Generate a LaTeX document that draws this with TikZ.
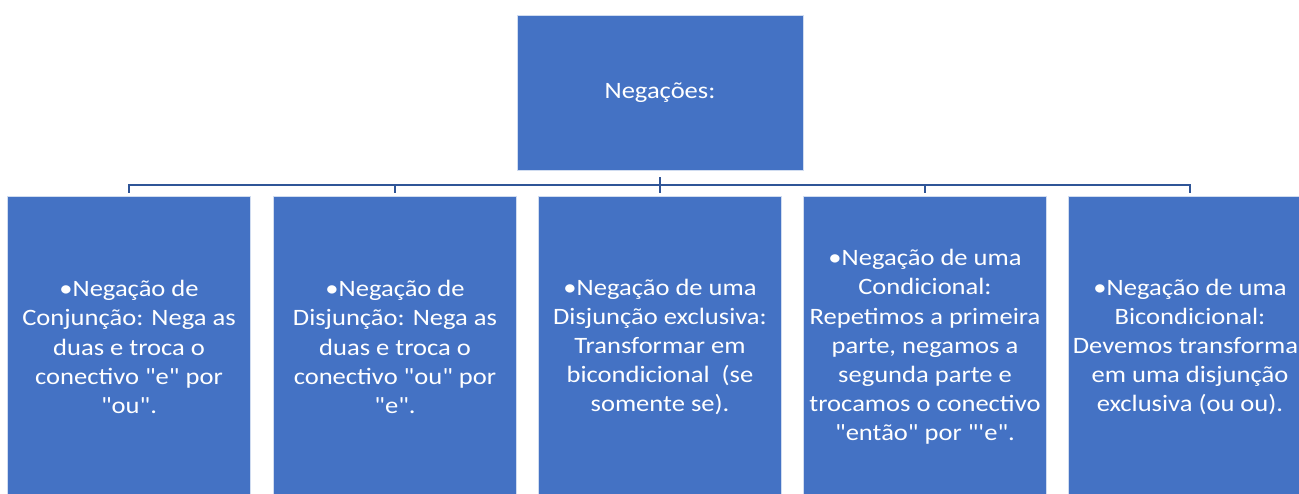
\documentclass[tikz,border=0pt]{standalone}
\usepackage{fontspec}
\defaultfontfeatures[\rmfamily]{}
\setmainfont{Carlito}
\usepackage{graphicx}
\definecolor{boxblue}{HTML}{4472C4}
\definecolor{lineblue}{HTML}{2F5597}
\newcommand\stxt[1]{\scalebox{1.13}[1]{\parbox{215pt}{\centering #1}}}
\tikzset{
  x=1pt, y=-1pt,
  topbox/.style={fill=boxblue, draw=white!75!boxblue, line width=0.8pt, minimum width=286pt, minimum height=155pt, inner sep=0pt, text=white, font=\fontsize{23.5}{29.2}\selectfont},
  childbox/.style={fill=boxblue, draw=white!75!boxblue, line width=0.8pt, minimum width=240pt, minimum height=302pt, inner sep=0pt, text=white, font=\fontsize{23.5}{29.2}\selectfont},
  conn/.style={draw=lineblue, line width=2pt}
}
\begin{document}
\begin{tikzpicture}
\clip (0,0) rectangle (1299,493);
\fill[white] (0,0) rectangle (1299,493);
\node[topbox] (top) at (660,92.5) {\stxt{Negações:}};
\node[childbox] (c1) at (129,347) {\stxt{•Negação de\\Conjunção: Nega as\\duas e troca o\\conectivo "e" por\\"ou".}};
\node[childbox] (c2) at (395,347) {\stxt{•Negação de\\Disjunção: Nega as\\duas e troca o\\conectivo "ou" por\\"e".}};
\node[childbox] (c3) at (660,347) {\stxt{•Negação de uma\\Disjunção exclusiva:\\Transformar em\\bicondicional~ (se\\somente se).}};
\node[childbox] (c4) at (925,347) {\stxt{•Negação de uma\\Condicional:\\Repetimos a primeira\\parte, negamos a\\segunda parte e\\trocamos o conectivo\\"então" por "'e".}};
\node[childbox] (c5) at (1190,347) {\stxt{•Negação de uma\\Bicondicional:\\Devemos transformar\\em uma disjunção\\exclusiva (ou ou).}};
\coordinate (hub) at (660,184.5);
\draw[conn] ([yshift=-7pt]top.south) -- ([yshift=3pt]c3.north);
\draw[conn] ([yshift=3pt]c1.north) |- (hub) -| ([yshift=3pt]c5.north);
\draw[conn] ([yshift=3pt]c2.north) -- (c2.north |- hub);
\draw[conn] ([yshift=3pt]c4.north) -- (c4.north |- hub);
\end{tikzpicture}
\end{document}
